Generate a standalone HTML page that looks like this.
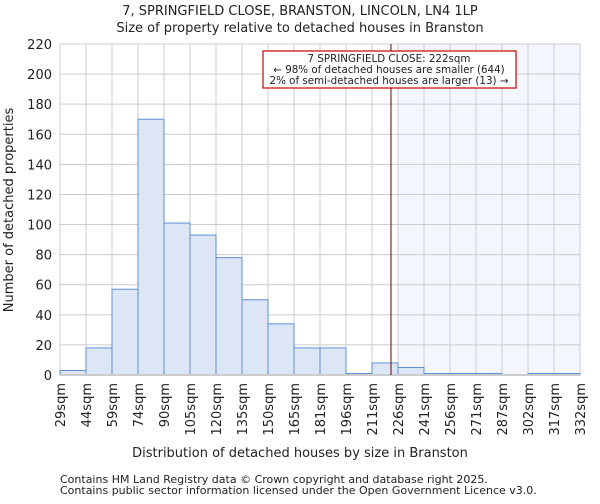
<!DOCTYPE html>
<html><head><meta charset="utf-8"><style>
body{margin:0;background:#fff;font-family:"DejaVu Sans","Liberation Sans",sans-serif}
svg text{font-family:"DejaVu Sans","Liberation Sans",sans-serif;fill:#222}
</style></head><body>
<svg id="chart" width="600" height="500" xmlns="http://www.w3.org/2000/svg">
<text x="300" y="15" text-anchor="middle" font-size="13">7, SPRINGFIELD CLOSE, BRANSTON, LINCOLN, LN4 1LP</text>
<text x="300" y="32" text-anchor="middle" font-size="13">Size of property relative to detached houses in Branston</text>
<g id="plot"></g>
<text x="300" y="457" text-anchor="middle" font-size="13">Distribution of detached houses by size in Branston</text>
<text transform="translate(13,210) rotate(-90)" text-anchor="middle" font-size="13">Number of detached properties</text>
<text x="60" y="483" font-size="11" fill="#444">Contains HM Land Registry data © Crown copyright and database right 2025.</text>
<text x="60" y="494" font-size="11" fill="#444">Contains public sector information licensed under the Open Government Licence v3.0.</text>
</svg>
<script>
const binLabels=["29sqm","44sqm","59sqm","74sqm","90sqm","105sqm","120sqm","135sqm","150sqm","165sqm","181sqm","196sqm","211sqm","226sqm","241sqm","256sqm","271sqm","287sqm","302sqm","317sqm","332sqm"];
const counts=[3,18,57,170,101,93,78,50,34,18,18,1,8,5,1,1,1,0,1,1];
const yTicks=[0,20,40,60,80,100,120,140,160,180,200,220];
const propertyBinPos=12.73; // 222sqm within bins
const shadeStartBin=13;
const NS="http://www.w3.org/2000/svg";
const L=60,R=580,T=44,B=375,yMax=220;
const nb=counts.length;
const xs=i=>L+(R-L)*i/nb;
const ys=v=>B-(B-T)*v/yMax;
const g=document.getElementById('plot');
function mk(t,a){const e=document.createElementNS(NS,t);for(const k in a)e.setAttribute(k,a[k]);g.appendChild(e);return e;}
let e=mk('rect',{x:xs(shadeStartBin),y:T,width:R-xs(shadeStartBin),height:B-T,fill:'#f3f6fd'});


yTicks.forEach(v=>{
 let l=mk('line',{x1:L,x2:R,y1:ys(v),y2:ys(v),stroke:'#ccc'});
 
 
 let t=mk('text',{x:L-8,y:ys(v)+5,'text-anchor':'end','font-size':13});
 t.textContent=v;
 
 
});
binLabels.forEach((s,i)=>{
 let l=mk('line',{x1:xs(i),x2:xs(i),y1:T,y2:B,stroke:'#ccc'});
 
 
 let t=mk('text',{transform:`translate(${xs(i)+5},${B+8}) rotate(-90)`,'text-anchor':'end','font-size':13});
 t.textContent=s;
 
 
});
counts.forEach((c,i)=>{
 if(c<=0)return;
 let r=mk('rect',{x:xs(i),y:ys(c),width:xs(1)-xs(0),height:B-ys(c),fill:'#dde6f4',stroke:'#5b8fd4','stroke-width':1});
 
 
});
let ax=mk('line',{x1:L,x2:R,y1:B,y2:B,stroke:'#ccc','stroke-width':2});


let px=xs(propertyBinPos);
let pl=mk('line',{x1:px,x2:px,y1:T,y2:B,stroke:'#600','stroke-width':1});


let box=mk('rect',{x:263,y:51,width:253,height:37,fill:'#fff',stroke:'#c00','stroke-width':1.2});


[["7 SPRINGFIELD CLOSE: 222sqm",62],["← 98% of detached houses are smaller (644)",73],["2% of semi-detached houses are larger (13) →",84]].forEach((a,i)=>{
 let t=mk('text',{x:389,y:a[1],'text-anchor':'middle','font-size':10.3});
 t.textContent=a[0];
 
 
});
</script>
</body></html>
